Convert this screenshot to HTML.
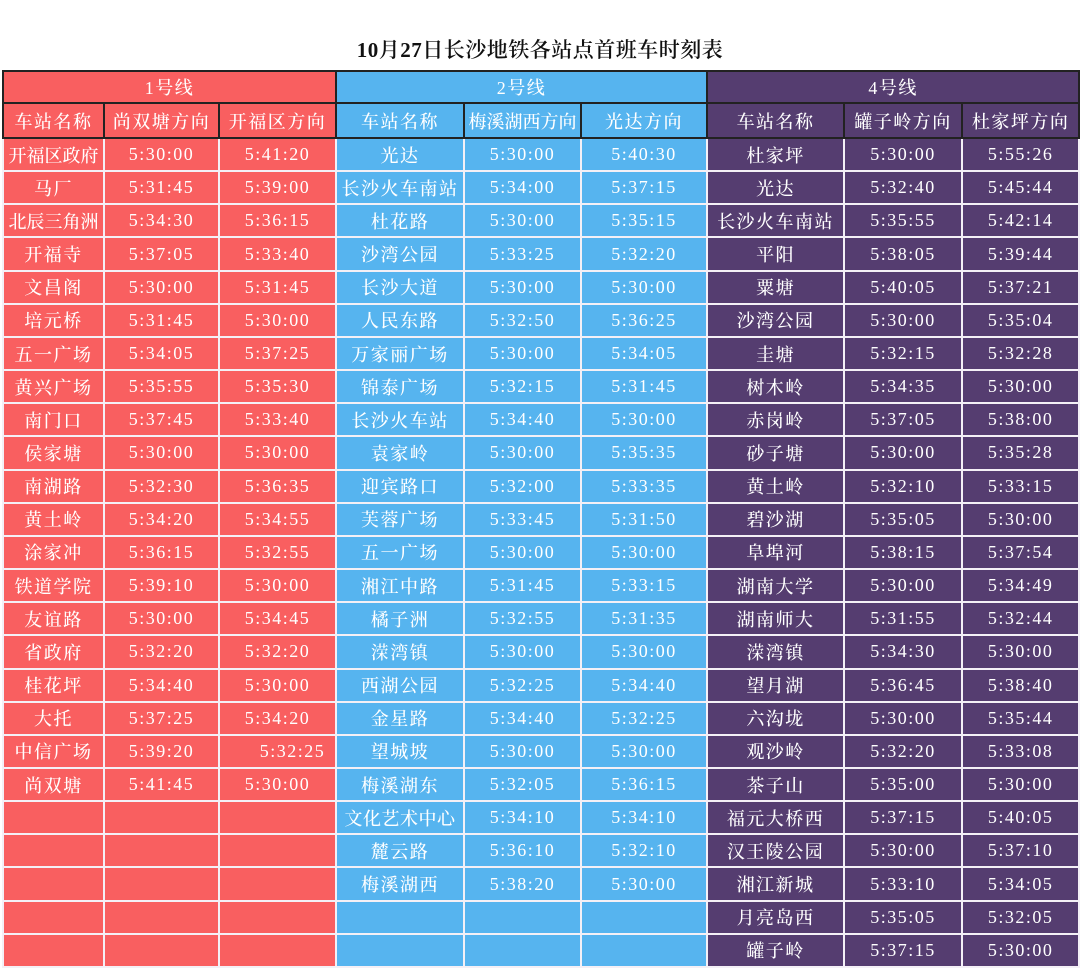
<!DOCTYPE html>
<html><head><meta charset="utf-8">
<style>
html,body{margin:0;padding:0;background:#fff;width:1080px;height:969px;overflow:hidden}
.title{position:absolute;left:0;top:34px;width:1080px;text-align:center;font:600 21px "Liberation Serif","Noto Serif CJK SC",serif;color:#111;letter-spacing:0.5px}
table{position:absolute;left:2px;top:70px;border-collapse:collapse;table-layout:fixed;width:1076px}
td{padding:0;text-align:center;color:#fff;font:500 18px "Liberation Serif","Noto Serif CJK SC",serif;border:2px solid #f4f0f6;white-space:nowrap;overflow:hidden;letter-spacing:1.5px}
tr.h td{border:2px solid #222}
tr.h1{height:32px}tr.h2{height:35px}
tr.d{height:33.16px}
.r{background:#f95f60}.b{background:#56b4ef}.p{background:#553d70}
</style></head><body>
<div class="title">10月27日长沙地铁各站点首班车时刻表</div>
<table>
<colgroup><col style="width:101px"><col style="width:115px"><col style="width:117px"><col style="width:128px"><col style="width:117px"><col style="width:126px"><col style="width:137px"><col style="width:118px"><col style="width:117px"></colgroup>
<tr class="h h1"><td class="r" colspan="3">1号线</td><td class="b" colspan="3">2号线</td><td class="p" colspan="3">4号线</td></tr>
<tr class="h h2"><td class="r">车站名称</td><td class="r">尚双塘方向</td><td class="r">开福区方向</td><td class="b">车站名称</td><td class="b" style="letter-spacing:0">梅溪湖西方向</td><td class="b">光达方向</td><td class="p">车站名称</td><td class="p">罐子岭方向</td><td class="p">杜家坪方向</td></tr>
<tr class="d"><td class="r" style="letter-spacing:0">开福区政府</td><td class="r">5:30:00</td><td class="r">5:41:20</td><td class="b">光达</td><td class="b">5:30:00</td><td class="b">5:40:30</td><td class="p">杜家坪</td><td class="p">5:30:00</td><td class="p">5:55:26</td></tr>
<tr class="d"><td class="r">马厂</td><td class="r">5:31:45</td><td class="r">5:39:00</td><td class="b">长沙火车南站</td><td class="b">5:34:00</td><td class="b">5:37:15</td><td class="p">光达</td><td class="p">5:32:40</td><td class="p">5:45:44</td></tr>
<tr class="d"><td class="r" style="letter-spacing:0">北辰三角洲</td><td class="r">5:34:30</td><td class="r">5:36:15</td><td class="b">杜花路</td><td class="b">5:30:00</td><td class="b">5:35:15</td><td class="p">长沙火车南站</td><td class="p">5:35:55</td><td class="p">5:42:14</td></tr>
<tr class="d"><td class="r">开福寺</td><td class="r">5:37:05</td><td class="r">5:33:40</td><td class="b">沙湾公园</td><td class="b">5:33:25</td><td class="b">5:32:20</td><td class="p">平阳</td><td class="p">5:38:05</td><td class="p">5:39:44</td></tr>
<tr class="d"><td class="r">文昌阁</td><td class="r">5:30:00</td><td class="r">5:31:45</td><td class="b">长沙大道</td><td class="b">5:30:00</td><td class="b">5:30:00</td><td class="p">粟塘</td><td class="p">5:40:05</td><td class="p">5:37:21</td></tr>
<tr class="d"><td class="r">培元桥</td><td class="r">5:31:45</td><td class="r">5:30:00</td><td class="b">人民东路</td><td class="b">5:32:50</td><td class="b">5:36:25</td><td class="p">沙湾公园</td><td class="p">5:30:00</td><td class="p">5:35:04</td></tr>
<tr class="d"><td class="r">五一广场</td><td class="r">5:34:05</td><td class="r">5:37:25</td><td class="b">万家丽广场</td><td class="b">5:30:00</td><td class="b">5:34:05</td><td class="p">圭塘</td><td class="p">5:32:15</td><td class="p">5:32:28</td></tr>
<tr class="d"><td class="r">黄兴广场</td><td class="r">5:35:55</td><td class="r">5:35:30</td><td class="b">锦泰广场</td><td class="b">5:32:15</td><td class="b">5:31:45</td><td class="p">树木岭</td><td class="p">5:34:35</td><td class="p">5:30:00</td></tr>
<tr class="d"><td class="r">南门口</td><td class="r">5:37:45</td><td class="r">5:33:40</td><td class="b">长沙火车站</td><td class="b">5:34:40</td><td class="b">5:30:00</td><td class="p">赤岗岭</td><td class="p">5:37:05</td><td class="p">5:38:00</td></tr>
<tr class="d"><td class="r">侯家塘</td><td class="r">5:30:00</td><td class="r">5:30:00</td><td class="b">袁家岭</td><td class="b">5:30:00</td><td class="b">5:35:35</td><td class="p">砂子塘</td><td class="p">5:30:00</td><td class="p">5:35:28</td></tr>
<tr class="d"><td class="r">南湖路</td><td class="r">5:32:30</td><td class="r">5:36:35</td><td class="b">迎宾路口</td><td class="b">5:32:00</td><td class="b">5:33:35</td><td class="p">黄土岭</td><td class="p">5:32:10</td><td class="p">5:33:15</td></tr>
<tr class="d"><td class="r">黄土岭</td><td class="r">5:34:20</td><td class="r">5:34:55</td><td class="b">芙蓉广场</td><td class="b">5:33:45</td><td class="b">5:31:50</td><td class="p">碧沙湖</td><td class="p">5:35:05</td><td class="p">5:30:00</td></tr>
<tr class="d"><td class="r">涂家冲</td><td class="r">5:36:15</td><td class="r">5:32:55</td><td class="b">五一广场</td><td class="b">5:30:00</td><td class="b">5:30:00</td><td class="p">阜埠河</td><td class="p">5:38:15</td><td class="p">5:37:54</td></tr>
<tr class="d"><td class="r">铁道学院</td><td class="r">5:39:10</td><td class="r">5:30:00</td><td class="b">湘江中路</td><td class="b">5:31:45</td><td class="b">5:33:15</td><td class="p">湖南大学</td><td class="p">5:30:00</td><td class="p">5:34:49</td></tr>
<tr class="d"><td class="r">友谊路</td><td class="r">5:30:00</td><td class="r">5:34:45</td><td class="b">橘子洲</td><td class="b">5:32:55</td><td class="b">5:31:35</td><td class="p">湖南师大</td><td class="p">5:31:55</td><td class="p">5:32:44</td></tr>
<tr class="d"><td class="r">省政府</td><td class="r">5:32:20</td><td class="r">5:32:20</td><td class="b">溁湾镇</td><td class="b">5:30:00</td><td class="b">5:30:00</td><td class="p">溁湾镇</td><td class="p">5:34:30</td><td class="p">5:30:00</td></tr>
<tr class="d"><td class="r">桂花坪</td><td class="r">5:34:40</td><td class="r">5:30:00</td><td class="b">西湖公园</td><td class="b">5:32:25</td><td class="b">5:34:40</td><td class="p">望月湖</td><td class="p">5:36:45</td><td class="p">5:38:40</td></tr>
<tr class="d"><td class="r">大托</td><td class="r">5:37:25</td><td class="r">5:34:20</td><td class="b">金星路</td><td class="b">5:34:40</td><td class="b">5:32:25</td><td class="p">六沟垅</td><td class="p">5:30:00</td><td class="p">5:35:44</td></tr>
<tr class="d"><td class="r">中信广场</td><td class="r">5:39:20</td><td class="r" style="padding-left:30px">5:32:25</td><td class="b">望城坡</td><td class="b">5:30:00</td><td class="b">5:30:00</td><td class="p">观沙岭</td><td class="p">5:32:20</td><td class="p">5:33:08</td></tr>
<tr class="d"><td class="r">尚双塘</td><td class="r">5:41:45</td><td class="r">5:30:00</td><td class="b">梅溪湖东</td><td class="b">5:32:05</td><td class="b">5:36:15</td><td class="p">茶子山</td><td class="p">5:35:00</td><td class="p">5:30:00</td></tr>
<tr class="d"><td class="r"></td><td class="r"></td><td class="r"></td><td class="b" style="letter-spacing:0.5px">文化艺术中心</td><td class="b">5:34:10</td><td class="b">5:34:10</td><td class="p">福元大桥西</td><td class="p">5:37:15</td><td class="p">5:40:05</td></tr>
<tr class="d"><td class="r"></td><td class="r"></td><td class="r"></td><td class="b">麓云路</td><td class="b">5:36:10</td><td class="b">5:32:10</td><td class="p">汉王陵公园</td><td class="p">5:30:00</td><td class="p">5:37:10</td></tr>
<tr class="d"><td class="r"></td><td class="r"></td><td class="r"></td><td class="b">梅溪湖西</td><td class="b">5:38:20</td><td class="b">5:30:00</td><td class="p">湘江新城</td><td class="p">5:33:10</td><td class="p">5:34:05</td></tr>
<tr class="d"><td class="r"></td><td class="r"></td><td class="r"></td><td class="b"></td><td class="b"></td><td class="b"></td><td class="p">月亮岛西</td><td class="p">5:35:05</td><td class="p">5:32:05</td></tr>
<tr class="d"><td class="r"></td><td class="r"></td><td class="r"></td><td class="b"></td><td class="b"></td><td class="b"></td><td class="p">罐子岭</td><td class="p">5:37:15</td><td class="p">5:30:00</td></tr>
</table>
</body></html>
